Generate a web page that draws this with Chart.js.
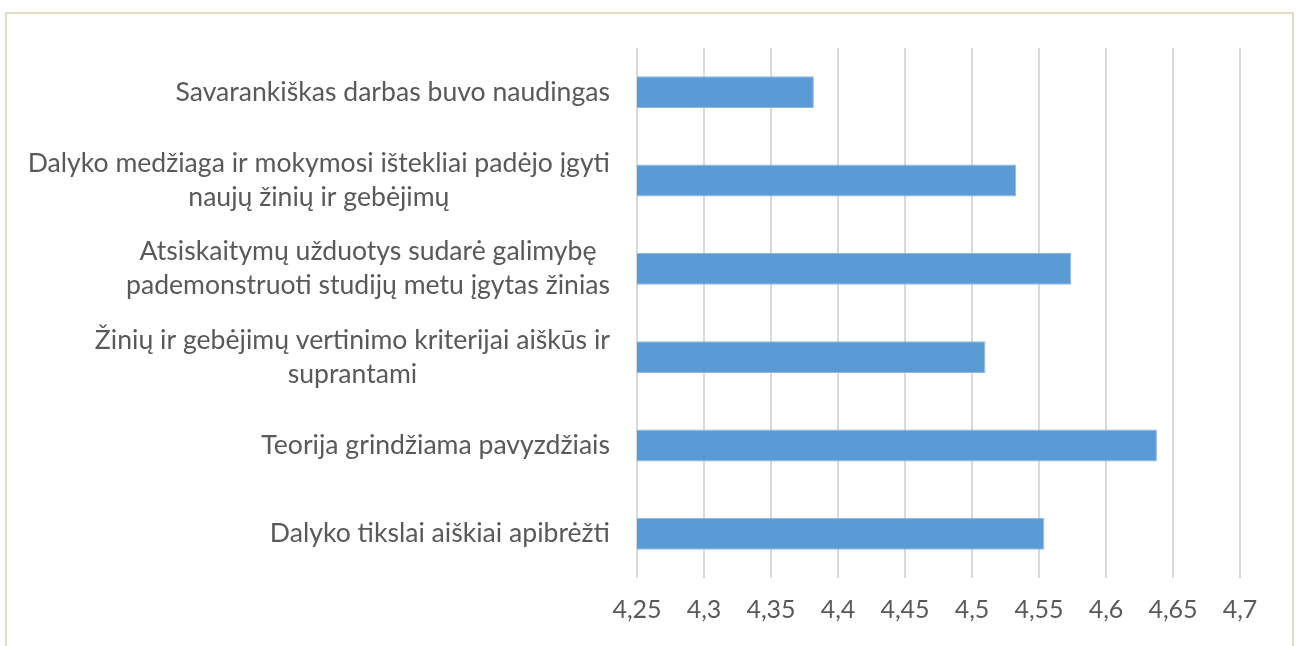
<!DOCTYPE html>
<html>
<head>
<meta charset="utf-8">
<script src="https://cdn.jsdelivr.net/npm/chart.js@4.4.1/dist/chart.umd.min.js"></script>
<style>
  html, body { margin: 0; padding: 0; background: #fff; }
  #wrap { position: relative; width: 1300px; height: 646px; overflow: hidden; }
  #frame { position: absolute; left: 5px; top: 12px; width: 1285px; height: 700px; border: 2px solid #e0dccb; }
  #bars { position: absolute; left: 0; top: 0; }
</style>
</head>
<body>
<div id="wrap">
  <div id="frame"></div>
  <canvas id="bars" width="1300" height="646"></canvas>
</div>
<script>
const categories = [
  ["Savarankiškas darbas buvo naudingas"],
  ["Dalyko medžiaga ir mokymosi ištekliai padėjo įgyti", "naujų žinių ir gebėjimų"],
  ["Atsiskaitymų užduotys sudarė galimybę", "pademonstruoti studijų metu įgytas žinias"],
  ["Žinių ir gebėjimų vertinimo kriterijai aiškūs ir", "suprantami"],
  ["Teorija grindžiama pavyzdžiais"],
  ["Dalyko tikslai aiškiai apibrėžti"],
];
const scores = [4.382, 4.533, 4.574, 4.51, 4.638, 4.554];
const xTicks = ["4,25", "4,3", "4,35", "4,4", "4,45", "4,5", "4,55", "4,6", "4,65", "4,7"];

const family = "Lato, 'Open Sans', sans-serif";
const textColor = "#595959";

// size the label font so the first label is about as wide as in the picture
const probe = document.createElement("canvas").getContext("2d");
probe.font = "100px " + family;
const labelSize = Math.round(100 * 434 / probe.measureText(categories[0][0]).width * 10) / 10;

const yLabels = {
  id: "yLabels",
  afterDraw(chart) {
    const c = chart.ctx;
    const y = chart.scales.y;
    const right = 610, lineH = 34;
    c.save();
    c.font = labelSize + "px " + family;
    c.fillStyle = textColor;
    c.textAlign = "center";
    c.textBaseline = "middle";
    categories.forEach((lines, i) => {
      const cy = y.getPixelForTick(i);
      const w = Math.max(...lines.map(l => c.measureText(l).width));
      lines.forEach((l, j) => {
        c.fillText(l, right - w / 2, cy + (j - (lines.length - 1) / 2) * lineH);
      });
    });
    c.restore();
  },
};

new Chart(document.getElementById("bars"), {
  type: "bar",
  data: {
    labels: categories.map(l => l.join(" ")),
    datasets: [{
      data: scores,
      backgroundColor: "#5b9bd5",
      borderColor: "#8cb9e3",
      borderWidth: 1,
      borderSkipped: false,
      categoryPercentage: 1,
      barPercentage: 0.36,
    }],
  },
  options: {
    indexAxis: "y",
    responsive: false,
    animation: false,
    layout: { padding: { left: 0, top: 48, right: 60, bottom: 0 } },
    plugins: { legend: { display: false }, tooltip: { enabled: false } },
    scales: {
      x: {
        min: 4.25,
        max: 4.7,
        ticks: {
          stepSize: 0.05,
          padding: 17,
          color: textColor,
          font: { family, size: 25 },
          callback: (v, i) => xTicks[i],
        },
        grid: { color: "#d9d9d9", lineWidth: 2, drawTicks: false },
        border: { display: false },
        afterFit: s => { s.height = 68; },
      },
      y: {
        ticks: { display: false },
        grid: { display: false },
        border: { display: false },
        afterFit: s => { s.width = 637; },
      },
    },
  },
  plugins: [yLabels],
});
</script>
</body>
</html>
